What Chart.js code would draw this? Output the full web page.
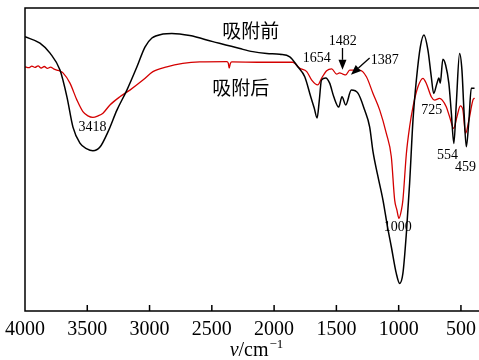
<!DOCTYPE html>
<html>
<head>
<meta charset="utf-8">
<title>IR spectra</title>
<script src="https://cdn.jsdelivr.net/npm/chart.js@4.4.1/dist/chart.umd.min.js"></script>
<style>
  html, body { margin: 0; padding: 0; background: #fff; }
  #wrap { width: 479px; height: 360px; }
</style>
</head>
<body>
<div id="wrap"><canvas id="irChart" width="479" height="360"></canvas></div>
<script>
// x axis ticks, wavenumber in cm-1
var xTicks = [4000, 3500, 3000, 2500, 2000, 1500, 1000, 500];

var beforeName = '吸附前';
var afterName = '吸附后';

// before adsorption (black)
var beforeWn = [4000, 3880, 3799, 3719, 3663, 3615, 3559, 3503, 3455, 3398,
    3334, 3262, 3182, 3102, 3037, 2981, 2893, 2821, 2677, 2492,
    2275, 2171, 2059, 1955, 1874, 1810, 1754, 1706, 1678, 1655,
    1637, 1620, 1586, 1554, 1521, 1481, 1455, 1425, 1380, 1327,
    1273, 1233, 1206, 1169, 1126, 1088, 1059, 1019, 992, 966,
    938, 912, 885, 858, 826, 797, 765, 738, 719, 693,
    677, 666, 645, 623, 597, 577, 557, 537, 511, 492,
    476, 457, 436, 417, 391];
var beforeT = [90.5, 88.4, 85.1, 79.5, 70.6, 60.7, 55.4, 53.5, 52.9, 54.1,
    59.1, 66.3, 72.9, 80.5, 87.1, 90.1, 91.4, 91.6, 90.9, 88.9,
    86.6, 85.6, 85.0, 84.7, 83.9, 80.6, 77.3, 70.7, 67.0, 63.7,
    69.6, 76.2, 76.9, 75.2, 70.7, 67.3, 70.7, 68.0, 72.9, 71.9,
    66.3, 60.8, 52.6, 44.9, 36.6, 27.4, 21.2, 12.4, 9.1, 12.4,
    25.7, 42.2, 63.0, 76.2, 87.2, 91.1, 86.1, 77.3, 71.8, 75.1,
    76.9, 75.2, 83.1, 81.2, 75.1, 65.3, 55.3, 68.6, 85.0, 79.5,
    66.3, 54.2, 63.0, 73.5, 73.5];

// after adsorption (red)
var afterWn = [4000, 3970, 3945, 3920, 3895, 3870, 3845, 3820, 3795, 3770,
    3743, 3720, 3695, 3639, 3583, 3535, 3495, 3455, 3414, 3374,
    3318, 3238, 3158, 3053, 2973, 2861, 2733, 2596, 2380, 2368,
    2361, 2352, 2340, 2115, 1850, 1794, 1738, 1698, 1650, 1618,
    1578, 1538, 1498, 1474, 1449, 1425, 1393, 1313, 1259, 1206,
    1152, 1099, 1059, 1032, 1014, 998, 978, 966, 938, 912,
    885, 845, 805, 778, 738, 711, 685, 671, 650, 618,
    591, 559, 532, 505, 484, 463, 436, 404, 391];
var afterT = [80.6, 80.3, 80.8, 80.4, 80.9, 80.2, 80.7, 80.1, 80.5, 79.9,
    79.5, 79.2, 78.6, 75.2, 69.6, 65.8, 64.4, 63.9, 64.4, 65.3,
    68.0, 70.7, 72.9, 76.2, 79.0, 80.6, 81.7, 82.2, 82.3, 81.8,
    80.2, 81.6, 82.2, 82.1, 82.1, 80.1, 79.0, 76.2, 74.6, 76.9,
    79.3, 79.9, 78.2, 78.6, 78.2, 77.9, 79.5, 79.5, 77.3, 71.8,
    66.3, 58.6, 50.9, 36.6, 33.3, 30.6, 33.3, 36.6, 52.0, 60.8,
    67.4, 74.0, 76.8, 75.1, 70.7, 69.6, 70.0, 70.2, 69.6, 67.4,
    64.1, 60.3, 64.1, 67.7, 66.3, 58.6, 63.0, 69.6, 70.3];

// peak labels
var peakLabels = ['3418', '1654', '1482', '1387', '1000', '725', '554', '459'];

// where the labels sit, in data units [wavenumber, value]
var peakAnchors = [[3459, 60.7], [1658, 83.5], [1449, 89.1], [1112, 82.8],
    [1008, 27.7], [735, 66.3], [607, 51.5], [463, 47.5]];
var nameAnchors = [[2187, 92.4], [2267, 73.6]];
var arrows = [[1451, 86.8, 1451, 79.6], [1233, 83.5, 1383, 78.0]];

function toPoints(xs, ys) {
    return xs.map(function(x, i) { return { x: x, y: ys[i] }; });
}

var serif = '"Liberation Serif", "Times New Roman", serif';
var cjk = '"Noto Sans CJK SC", sans-serif';

function drawArrow(ctx, x1, y1, x2, y2) {
    var ang = Math.atan2(y2 - y1, x2 - x1);
    var len = 10, half = 4;
    var bx = x2 - len * Math.cos(ang), by = y2 - len * Math.sin(ang);
    ctx.beginPath();
    ctx.moveTo(x1, y1);
    ctx.lineTo(bx, by);
    ctx.stroke();
    ctx.beginPath();
    ctx.moveTo(x2, y2);
    ctx.lineTo(bx + half * Math.sin(ang), by - half * Math.cos(ang));
    ctx.lineTo(bx - half * Math.sin(ang), by + half * Math.cos(ang));
    ctx.closePath();
    ctx.fill();
}

// frame, inward ticks, labels and axis title
var decorPlugin = {
    id: 'decor',
    afterDatasetsDraw: function(chart) {
        var ctx = chart.ctx, a = chart.chartArea;
        var xs = chart.scales.x, ys = chart.scales.y;
        ctx.save();
        ctx.strokeStyle = '#000';
        ctx.fillStyle = '#000';
        ctx.lineWidth = 1.5;
        ctx.beginPath();
        ctx.moveTo(a.right, a.top);
        ctx.lineTo(a.left, a.top);
        ctx.lineTo(a.left, a.bottom);
        ctx.lineTo(a.right, a.bottom);
        xTicks.forEach(function(v) {
            var px = xs.getPixelForValue(v);
            ctx.moveTo(px, a.bottom);
            ctx.lineTo(px, a.bottom - 6);
        });
        ctx.stroke();

        ctx.textAlign = 'center';
        ctx.textBaseline = 'middle';
        ctx.font = '14px ' + serif;
        peakLabels.forEach(function(t, i) {
            ctx.fillText(t, xs.getPixelForValue(peakAnchors[i][0]), ys.getPixelForValue(peakAnchors[i][1]));
        });

        ctx.font = '19px ' + cjk;
        [beforeName, afterName].forEach(function(t, i) {
            ctx.fillText(t, xs.getPixelForValue(nameAnchors[i][0]), ys.getPixelForValue(nameAnchors[i][1]));
        });

        ctx.lineWidth = 1.3;
        arrows.forEach(function(r) {
            drawArrow(ctx, xs.getPixelForValue(r[0]), ys.getPixelForValue(r[1]),
                xs.getPixelForValue(r[2]), ys.getPixelForValue(r[3]));
        });

        // axis title: v/cm-1
        ctx.textAlign = 'left';
        ctx.textBaseline = 'alphabetic';
        var base = 356;
        ctx.font = 'italic 20px ' + serif;
        var w1 = ctx.measureText('ν').width;
        ctx.font = '20px ' + serif;
        var w2 = ctx.measureText('/cm').width;
        ctx.font = '13px ' + serif;
        var w3 = ctx.measureText('−1').width;
        var x0 = (a.left + a.right) / 2 + 4 - (w1 + w2 + w3) / 2;
        ctx.font = 'italic 20px ' + serif;
        ctx.fillText('ν', x0, base);
        ctx.font = '20px ' + serif;
        ctx.fillText('/cm', x0 + w1, base);
        ctx.font = '13px ' + serif;
        ctx.fillText('−1', x0 + w1 + w2 + 1, base - 8);
        ctx.restore();
    }
};

var ctx = document.getElementById('irChart').getContext('2d');
var irChart = new Chart(ctx, {
    type: 'line',
    data: {
        datasets: [{
            label: beforeName,
            data: toPoints(beforeWn, beforeT),
            borderColor: '#000000',
            borderWidth: 1.5,
            pointRadius: 0,
            cubicInterpolationMode: 'monotone'
        }, {
            label: afterName,
            data: toPoints(afterWn, afterT),
            borderColor: '#d40000',
            borderWidth: 1.3,
            pointRadius: 0,
            cubicInterpolationMode: 'monotone'
        }]
    },
    options: {
        responsive: false,
        devicePixelRatio: 1,
        animation: false,
        layout: { padding: { left: 25, top: 8, right: 0, bottom: 0 } },
        plugins: {
            legend: { display: false },
            tooltip: { enabled: false }
        },
        scales: {
            x: {
                type: 'linear',
                reverse: true,
                min: 355,
                max: 4000,
                afterBuildTicks: function(s) {
                    s.ticks = xTicks.map(function(v) { return { value: v }; });
                },
                afterFit: function(s) {
                    s.height = 49;
                    s.paddingLeft = 0;
                    s.paddingRight = 0;
                },
                grid: { display: false, drawTicks: false },
                border: { display: false },
                ticks: {
                    padding: 7,
                    color: '#000',
                    autoSkip: false,
                    maxRotation: 0,
                    font: { family: serif, size: 20 },
                    callback: function(v) { return String(v); }
                }
            },
            y: {
                display: false,
                min: 0,
                max: 100
            }
        }
    },
    plugins: [decorPlugin]
});
</script>
</body>
</html>
